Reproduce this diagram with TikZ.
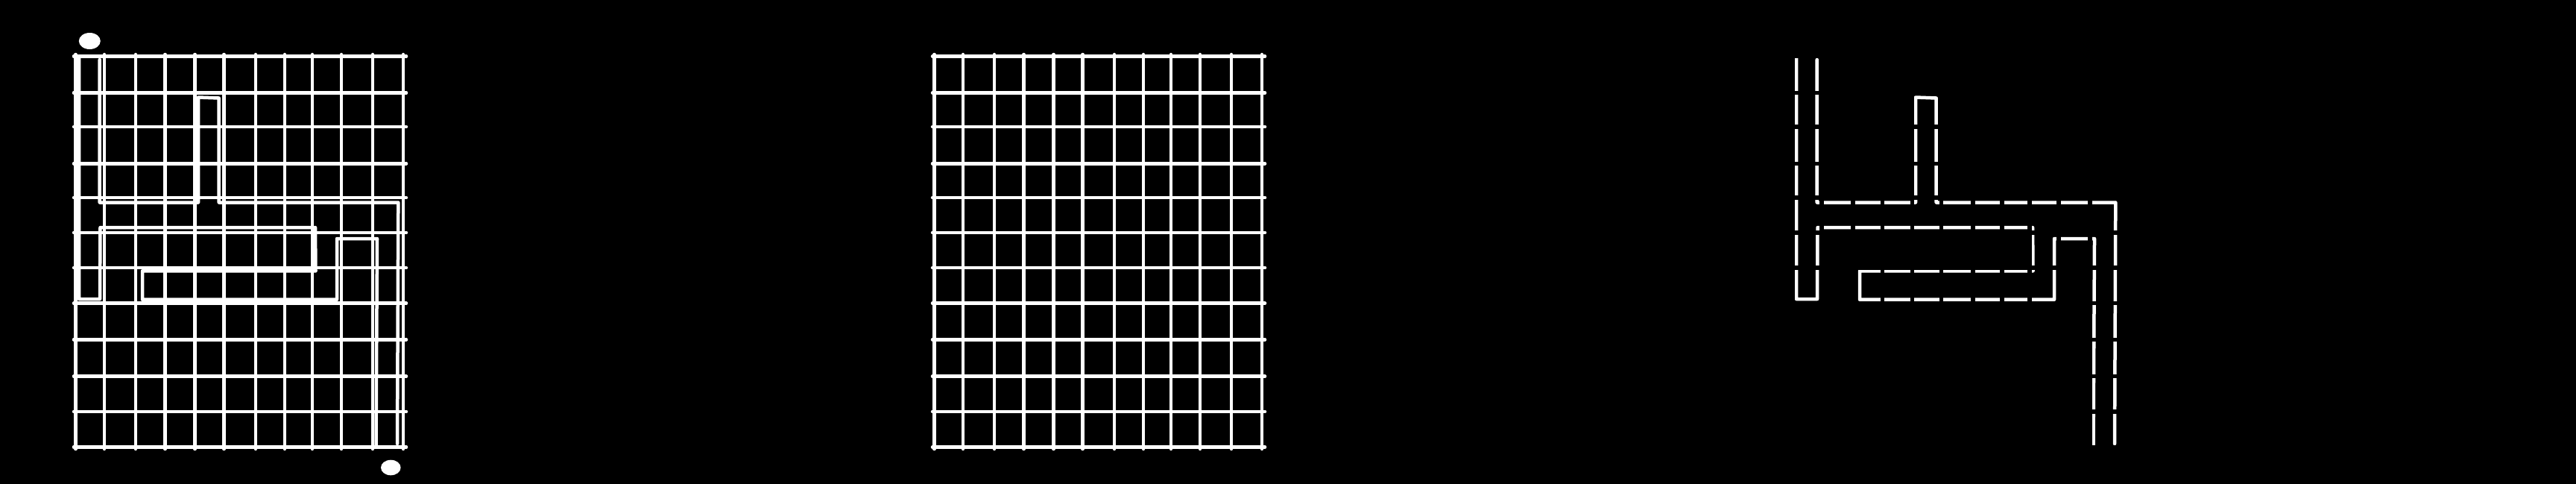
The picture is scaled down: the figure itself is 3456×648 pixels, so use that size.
\documentclass[tikz,border=0pt]{standalone}
\begin{document}
\begin{tikzpicture}[x=0.1mm,y=-0.1mm,
  gridline/.style={white,line width=0.45mm,line cap=round},
  mazeline/.style={white,line width=0.45mm,line cap=round,line join=round},
  eraser/.style={black,line width=0.55mm},
  marker/.style={white}]
\useasboundingbox (0,0) rectangle (3456,648);
\fill[black] (-20,-20) rectangle (3476,668);
\def\xs{101.5,140,182,221.5,261.5,300.5,343,382,419,458,500,541}
\def\ys{75.5,124.5,170,219.3,265,311.8,359,406.7,455.4,504.6,551.8,599.5}
% ---------- maze walls (panel-local coordinates) ----------
\tikzset{mazewalls/.pic={
  \draw[mazeline] (106,78) -- (106,401) -- (134,401) -- (134.5,305) -- (423,305)
     -- (423.5,363.3) -- (191,363.3) -- (191,401.7) -- (452,401.7) -- (452,320)
     -- (506,320) -- (504.5,596.7);
  \draw[mazeline] (133.7,80) -- (133.7,271.5) -- (266,271.5) -- (266,130.5)
     -- (293.7,131.5) -- (293.7,271.5) -- (534.3,271.5) -- (533,595);
}}
% ---------- panel 1: grid, maze, start and end ----------
\foreach \x in \xs {\draw[gridline] (\x,73) -- (\x,602);}
\foreach \y in \ys {\draw[gridline] (99,\y) -- (545,\y);}
\pic at (0,0) {mazewalls};
\fill[marker] (120.3,55) ellipse [x radius=14.5, y radius=11];
\fill[marker] (524.3,627) ellipse [x radius=13.3, y radius=10.3];
% ---------- panel 2: grid only ----------
\begin{scope}[shift={(1152,0)}]
\foreach \x in \xs {\draw[gridline] (\x,73) -- (\x,602);}
\foreach \y in \ys {\draw[gridline] (99,\y) -- (545,\y);}
\end{scope}
% ---------- panel 3: maze with the grid removed ----------
\begin{scope}[shift={(2304,0)}]
\pic at (0,0) {mazewalls};
\foreach \x in \xs {\draw[eraser] (\x,70) -- (\x,605);}
\foreach \y in \ys {\draw[eraser] (96,\y) -- (548,\y);}
\end{scope}
\end{tikzpicture}
\end{document}
